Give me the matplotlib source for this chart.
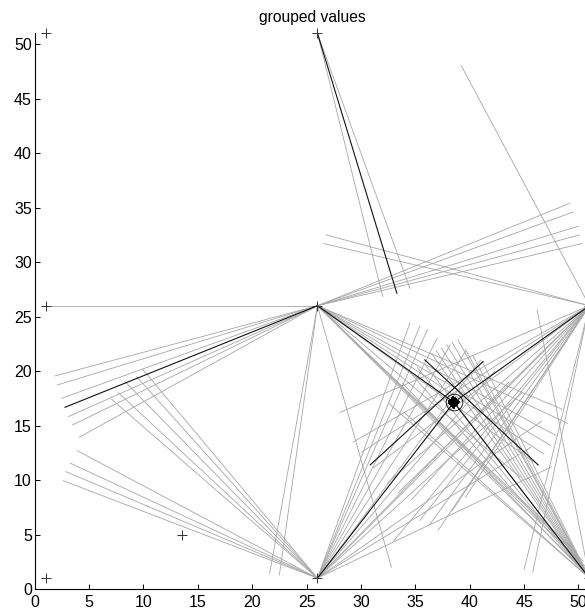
import numpy as np
import matplotlib.pyplot as plt

plt.rcParams['font.family'] = ['Liberation Sans', 'DejaVu Sans']

# node positions
node_x = [1, 1, 1, 26, 26, 26, 51, 51, 13.5]
node_y = [51, 26, 1, 51, 26, 1, 26, 1, 5]

# centre of the group and its members
centre = (38.54, 17.14)
member_x = [38.40, 38.62, 38.50, 38.70, 38.33, 38.56, 38.46, 38.66, 38.58, 38.42]
member_y = [17.10, 17.30, 16.98, 17.18, 17.26, 16.92, 17.36, 17.05, 17.20, 16.95]

# hub points and the far ends of the grey segments leaving them
top_hub = (26, 51)
top_x = [32.0, 34.5]
top_y = [26.85, 27.6]

p_hub = (26, 26)
p_x = [1.0, 1.87, 2.08, 2.48, 3.09, 3.49, 4.1,
       49.2, 49.5, 50.0, 50.1, 50.3,
       21.6, 22.5, 32.8,
       51.0, 50.8, 50.4, 49.8, 49.0, 48.5, 47.9, 47.4, 46.8, 45.8, 44.6]
p_y = [26.0, 19.56, 18.73, 17.5, 15.82, 15.06, 13.93,
       35.4, 34.6, 33.3, 32.5, 31.7,
       1.4, 1.3, 2.0,
       1.2, 1.9, 2.6, 3.4, 15.2, 16.5, 14.1, 13.2, 12.4, 11.7, 10.3]

q_hub = (51, 26)
q_x = [26.8, 26.6, 39.24,
       28.06, 29.3, 30.1, 31.1, 32.4, 33.4, 34.65, 35.4, 36.3, 37.1, 33.0, 38.4, 39.6,
       45.0, 45.8, 26.0]
q_y = [32.5, 31.7, 48.0,
       16.2, 13.5, 12.6, 11.1, 9.7, 8.8, 8.2, 6.3, 5.9, 5.4, 4.4, 7.2, 8.4,
       1.8, 1.6, 1.0]

r_hub = (26, 1)
r_x = [3.9, 3.3, 2.88, 2.63, 9.93, 9.37, 8.3, 7.68, 7.07,
       34.5, 35.4, 36.1, 37.0, 38.2, 39.6, 41.0, 42.3, 43.6, 44.8, 46.6, 45.6, 47.5]
r_y = [12.7, 11.54, 10.77, 9.94, 20.17, 19.5, 19.04, 18.03, 17.42,
       24.4, 24.1, 23.8, 23.0, 22.4, 21.8, 21.0, 20.0, 19.0, 18.0, 15.4, 13.0, 11.2]

s_hub = (51, 1)
s_x = [46.2, 33.8, 34.6, 35.2, 35.9, 36.5, 36.9, 37.4, 37.9, 38.4, 38.9, 39.6,
       40.3, 41.2, 34.0, 32.6]
s_y = [25.6, 18.9, 19.8, 20.3, 20.6, 21.6, 21.9, 22.1, 22.4, 22.6, 22.9, 22.0,
       21.4, 20.8, 16.2, 17.0]

# dark segments
dark_x0 = [26, 26, 26, 51, 26, 51, 30.85, 35.87]
dark_y0 = [51, 26, 26, 26, 1, 1, 11.39, 21.03]
dark_x1 = [33.3, 2.79, centre[0], centre[0], centre[0], centre[0], 41.23, 46.29]
dark_y1 = [27.15, 16.68, centre[1], centre[1], centre[1], centre[1], 20.87, 11.39]

grey = '#a6a6a6'
fig = plt.figure(figsize=(5.85, 6.09), dpi=100)
ax = fig.add_axes([0.0593, 0.0328, 0.9407, 0.9125])

for hub, xs, ys in [(top_hub, top_x, top_y), (p_hub, p_x, p_y), (q_hub, q_x, q_y),
                    (r_hub, r_x, r_y), (s_hub, s_x, s_y)]:
    for ex, ey in zip(xs, ys):
        ax.plot([hub[0], ex], [hub[1], ey], color=grey, lw=0.6)

for x0, y0, x1, y1 in zip(dark_x0, dark_y0, dark_x1, dark_y1):
    ax.plot([x0, x1], [y0, y1], color='#111111', lw=0.8)

ax.plot(node_x, node_y, '+', color='#333333', ms=7, mew=0.7, clip_on=False)
ax.plot(member_x, member_y, '+', color='black', ms=6, mew=1.3)
ax.plot([centre[0]], [centre[1]], 'o', mfc='none', mec='black', ms=12, mew=0.6)

ax.set_xlim(0, 50.6)
ax.set_ylim(0, 51)
ax.set_xticks(np.arange(0, 51, 5))
ax.set_yticks(np.arange(0, 51, 5))
ax.spines['top'].set_visible(False)
ax.spines['right'].set_visible(False)
ax.tick_params(direction='in', length=3.5, width=0.7, labelsize=11.5)
ax.tick_params(axis='x', pad=4)
ax.tick_params(axis='y', pad=2)
ax.set_title('grouped values', fontsize=11.25, pad=8, x=0.504)

fig.savefig('out.png', dpi=100)
